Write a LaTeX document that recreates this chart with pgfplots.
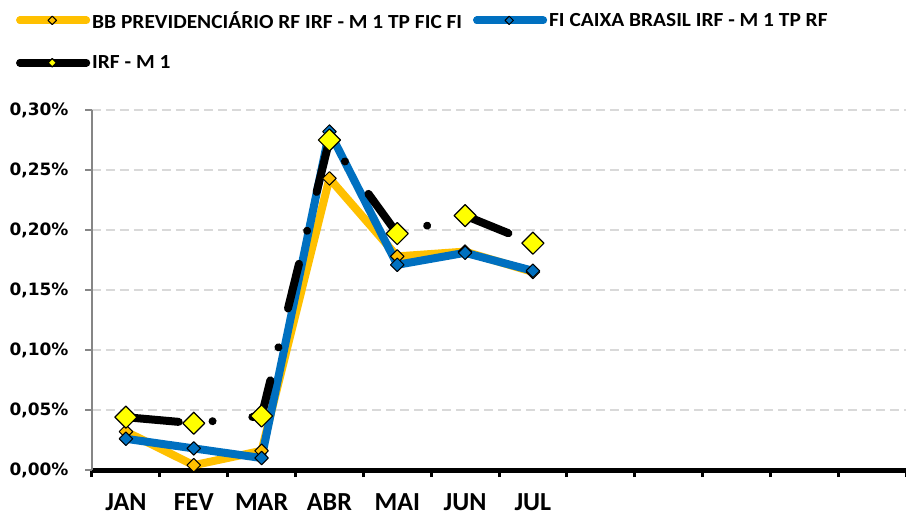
\documentclass[border=0pt]{standalone}
\usepackage{fontspec}
\setmainfont{Carlito}
\newfontfamily\dejavu{DejaVu Sans}
\newfontfamily\legfont[FakeStretch=1.07]{Carlito}
\usepackage{pgfplots}
\pgfplotsset{compat=1.18}
\definecolor{cYel}{HTML}{FFC000}
\definecolor{cBlue}{HTML}{0070C0}
\definecolor{cMark}{HTML}{FFFF00}
\definecolor{cGrid}{HTML}{D9D9D9}
\definecolor{cAxis}{HTML}{868686}
\begin{document}
\begin{tikzpicture}
\useasboundingbox (-92bp,-46bp) rectangle (814bp,470bp);
\begin{axis}[
  at={(0,0)}, anchor=south west,
  scale only axis, width=814bp, height=360bp,
  xmin=0.5, xmax=12.5, ymin=0, ymax=0.30,
  clip=false,
  axis lines*=left,
  x axis line style={black, line width=5bp},
  y axis line style={cAxis, line width=1.2bp},
  ytick={0,0.05,0.10,0.15,0.20,0.25,0.30},
  yticklabel={\pgfmathprintnumber[fixed,fixed zerofill,precision=2,use comma]{\tick}\%},
  /pgf/number format/assume math mode=true,
  yticklabel style={font=\dejavu\bfseries\fontsize{17bp}{20bp}\selectfont, xshift=-13bp},
  ytick style={cAxis, line width=1.2bp},
  tick align=outside,
  major tick length=7bp,
  ymajorgrids,
  grid style={cGrid, line width=2bp, dash pattern=on 9bp off 5bp},
  xtick={0.5,1.5,...,12.5},
  xticklabels={},
  xtick style={black, line width=3bp},
  x tick label style={font=\bfseries\fontsize{26bp}{30bp}\selectfont},
  extra x ticks={1,2,3,4,5,6,7},
  extra x tick labels={JAN,FEV,MAR,ABR,MAI,JUN,JUL},
  extra x tick style={major tick length=0pt, grid=none, tick label style={yshift=-20bp}},
  legend style={draw=none, fill=none, at={(-0.0970,1.286)}, anchor=north west,
    font=\legfont\bfseries\fontsize{20bp}{23bp}\selectfont,
    legend columns=2, row sep=22bp,
    /tikz/every even column/.append style={column sep=9bp},
    nodes={inner sep=2bp, xshift=4bp}},
  legend cell align=left,
  legend image code/.code={\path (0bp,0bp) -- (66bp,0bp);\draw[mark repeat=2,mark phase=2,#1] plot coordinates {(0bp,0bp) (32bp,0bp) (64bp,0bp)};},
]
\addplot[cYel, line width=8bp, line join=round, line cap=round,
  mark=square*, mark size=4.8bp,
  mark options={rotate=45, solid, fill=cYel, draw=black, line width=1bp},
  legend image post style={mark size=3bp}]
  coordinates {(1,0.032) (2,0.004) (3,0.016) (4,0.243) (5,0.178) (6,0.182) (7,0.165)};
\addlegendentry{BB PREVIDENCIÁRIO RF IRF - M 1 TP FIC FI}
\addplot[cBlue, line width=8bp, line join=round, line cap=round,
  mark=square*, mark size=4.8bp,
  mark options={rotate=45, solid, fill=cBlue, draw=black, line width=1bp},
  legend image post style={mark size=3bp}]
  coordinates {(1,0.026) (2,0.018) (3,0.010) (4,0.282) (5,0.171) (6,0.181) (7,0.166)};
\addlegendentry{FI CAIXA BRASIL IRF - M 1 TP RF}
\addplot[black, line width=8bp, line join=round, line cap=round,
  dash pattern=on 46bp off 34bp on 0.01bp off 40bp, dash phase=113bp,
  mark=square*, mark size=7.8bp,
  mark options={rotate=45, solid, fill=cMark, draw=black, line width=1.2bp},
  legend image post style={mark size=3bp, solid}]
  coordinates {(1,0.044) (2,0.039) (3,0.045) (4,0.275) (5,0.197) (6,0.212) (7,0.189)};
\addlegendentry{IRF - M 1}
\end{axis}
\end{tikzpicture}
\end{document}
